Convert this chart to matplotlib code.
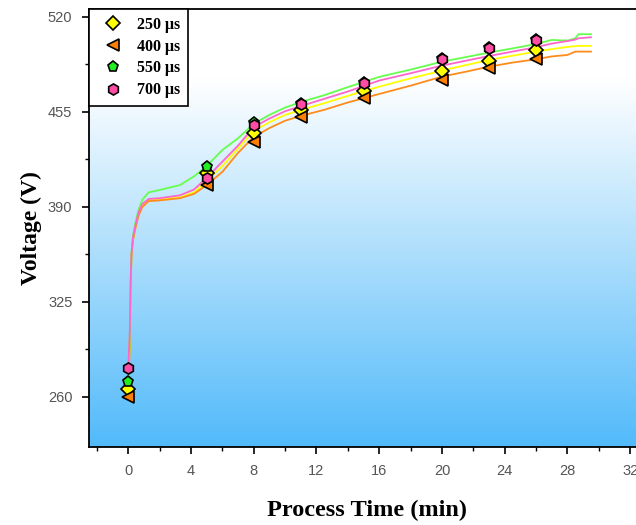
import numpy as np
import matplotlib
matplotlib.use("Agg")
import matplotlib.pyplot as plt
from matplotlib.colors import LinearSegmentedColormap
from matplotlib.lines import Line2D

# marker data (process time in min, voltage in V)
t_marks = [0, 5, 8, 11, 15, 20, 23, 26]
v_250 = [265.5, 413.0, 440.4, 456.4, 469.4, 483.3, 490.1, 497.4]
v_400 = [260.0, 405.0, 434.7, 451.8, 464.6, 476.9, 484.9, 491.3]
v_550 = [270.3, 417.6, 447.3, 460.5, 474.8, 491.5, 498.6, 504.5]
v_700 = [279.8, 409.6, 446.0, 460.5, 474.8, 491.1, 498.6, 504.3]

# continuous recorded curves
t_line = [0, 0.1, 0.15, 0.2, 0.3, 0.45, 0.65, 0.9, 1.3, 2.0, 3.3, 4.2, 5.0, 6.0, 7.0,
          8.0, 9.0, 10.0, 11.0, 12.5, 14.0, 16.0, 18.0, 20.0, 21.5, 23.0, 24.5, 26.0,
          27.0, 28.0, 28.5, 28.7, 29.5]
line_250 = [265.5, 300, 335, 356, 368, 376, 385, 391, 394.5, 395, 396.5, 400, 408, 418, 430,
            442, 448, 453, 456.4, 461, 466, 472.3, 478, 483.3, 487, 490.6, 493.5, 496.3,
            498, 499.5, 500, 500.2, 500.2]
line_400 = [260.0, 298, 333, 355, 367, 375, 384, 390, 394, 394.5, 396, 399, 405, 414, 427,
            438, 444, 449, 452.3, 456.5, 461.5, 467.3, 473, 479.2, 482.5, 486, 488.8, 491.1,
            493, 494, 496.3, 496.3, 496.3]
line_550 = [270.3, 302, 337, 358, 370, 379, 388, 395, 400, 401.6, 405, 411, 418, 429, 437,
            447, 453, 458, 461.8, 466.5, 472, 479, 484, 489.4, 492.5, 495.6, 498.5, 501.5,
            504.3, 503.8, 505.4, 508.2, 508.2]
line_700 = [279.8, 305, 338, 357, 369, 377, 386, 392, 395.5, 396, 398, 402, 410, 421, 432,
            444.7, 450.5, 455.5, 459, 464, 469, 476.5, 481.5, 486.7, 490, 493.3, 496.3, 499.3,
            501.8, 503.5, 504.5, 505.4, 506.1]

labels = ["250 μs", "400 μs", "550 μs", "700 μs"]
marks = [v_250, v_400, v_550, v_700]
lines = [line_250, line_400, line_550, line_700]
line_colors = ["#FFFF00", "#FF8C1A", "#66FF4D", "#FF66CC"]
mark_colors = ["#FFFF00", "#FF7F00", "#22EE22", "#FF4DA6"]
symbols = ["D", "<", "p", "h"]
sizes = [7, 8, 8, 8]

fig = plt.figure(figsize=(6.36, 5.25), dpi=100)
ax = fig.add_axes([0.14, 0.1486, 0.8755, 0.8344])

xlim = (-2.5, 33)
ylim = (225.8, 525.5)

# background gradient: white at top, light blue at bottom
cmap = LinearSegmentedColormap.from_list(
    "bg", [(0.0, "#52BAFA"), (0.84, "#FFFFFF"), (1.0, "#FFFFFF")])
grad = np.linspace(0, 1, 256).reshape(-1, 1)
ax.imshow(grad, cmap=cmap, origin="lower", aspect="auto",
          extent=[xlim[0], xlim[1], ylim[0], ylim[1]], zorder=0)

for lv, col in zip(lines, line_colors):
    ax.plot(t_line, lv, color=col, lw=1.3, zorder=2)

for mv, col, sym, ms in zip(marks, mark_colors, symbols, sizes):
    ax.plot(t_marks, mv, ls="none", marker=sym, ms=ms, mfc=col,
            mec="black", mew=1.2, zorder=3)

ax.set_xlim(*xlim)
ax.set_ylim(*ylim)
ax.set_xticks(np.arange(0, 33, 4))
ax.set_xticks(np.arange(-2, 33, 4), minor=True)
ax.set_yticks([260, 325, 390, 455, 520])
ax.set_yticks([292.5, 357.5, 422.5, 487.5], minor=True)
ax.tick_params(which="major", direction="out", length=5, width=1.2,
               labelsize=10.5, labelcolor="#555555", pad=7)
ax.tick_params(which="minor", direction="out", length=3, width=1.0)
for lab in ax.get_xticklabels() + ax.get_yticklabels():
    lab.set_fontfamily("Liberation Sans")
for sp in ax.spines.values():
    sp.set_linewidth(1.3)

ax.set_xlabel("Process Time (min)", family="Liberation Serif", weight="bold",
              fontsize=17.5, labelpad=16)
ax.set_ylabel("Voltage (V)", family="Liberation Serif", weight="bold",
              fontsize=17, labelpad=4)

handles = [Line2D([], [], ls="none", marker=s, ms=ms, mfc=c, mec="black", mew=1.2)
           for s, c, ms in zip(symbols, mark_colors, sizes)]
leg = ax.legend(handles, labels, loc="upper left", bbox_to_anchor=(0, 1),
                borderaxespad=0, fancybox=False, framealpha=1, edgecolor="black",
                prop={"family": "Liberation Serif", "weight": "bold", "size": 11.5},
                handlelength=2.0, handletextpad=0.5, borderpad=0.5, labelspacing=0.36)
leg.get_frame().set_linewidth(1.2)

fig.savefig("out.png", dpi=100)
